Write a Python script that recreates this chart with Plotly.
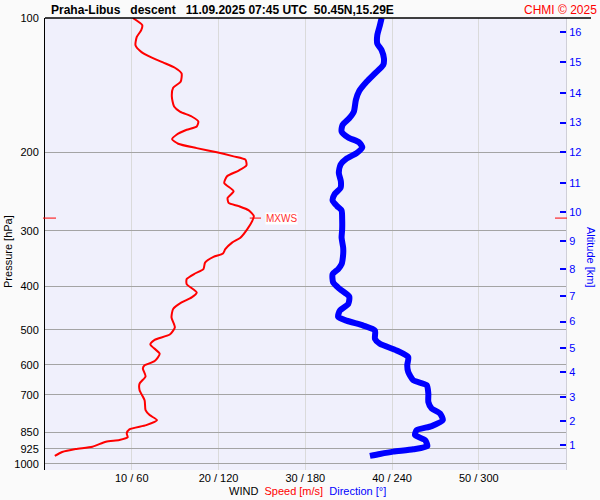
import plotly.graph_objects as go
import math

# ---- data ----
speed_p = [100.0, 103.8, 106.5, 110.3, 115.1, 119.1, 122.6, 125.8, 129.3, 133.1, 139.0, 143.3, 150.1,
           158.0, 162.1, 166.3, 170.7, 175.1, 178.1, 182.7, 187.0, 191.4, 195.8, 200.1, 204.3, 207.8,
           214.0, 219.9, 226.4, 234.4, 244.6, 253.1, 259.7, 264.2, 270.1, 278.2, 285.4, 297.8, 311.0,
           319.0, 330.0, 337.6, 343.4, 353.6, 365.8, 374.1, 385.0, 395.1, 412.6, 423.3, 434.4, 449.4,
           469.2, 493.9, 512.8, 527.0, 539.8, 566.2, 588.1, 601.2, 611.5, 636.2, 660.5, 683.5, 719.6,
           757.6, 777.3, 797.6, 818.3, 836.6, 854.2, 871.8, 884.0, 891.8, 915.0, 925.8, 940.2, 959.7]
speed_ms = [10.12, 11.21, 11.09, 10.58, 10.43, 11.09, 12.26, 13.60, 14.97, 15.74, 15.63, 14.77, 14.62,
            14.88, 15.55, 16.91, 17.67, 17.49, 16.33, 15.16, 14.65, 15.35, 17.49, 19.81, 21.74, 23.10,
            23.22, 22.33, 20.98, 20.66, 21.74, 21.05, 21.16, 22.33, 23.49, 24.07, 23.88, 23.30, 22.52,
            21.56, 20.78, 20.51, 19.42, 18.45, 18.26, 17.29, 16.33, 16.33, 17.49, 16.91, 15.74, 14.77,
            14.58, 14.97, 14.38, 12.64, 12.14, 13.22, 12.64, 11.48, 11.28, 11.59, 10.90, 10.90, 11.48,
            11.59, 12.06, 12.91, 11.67, 9.73, 9.42, 9.53, 8.57, 7.02, 5.47, 3.53, 1.98, 1.13]

dir_p = [100.0, 103.8, 109.3, 114.1, 118.1, 123.3, 127.5, 133.1, 139.0, 145.8, 152.6, 162.1, 167.8,
         173.6, 179.6, 185.3, 190.1, 195.1, 200.9, 206.7, 213.2, 222.6, 232.3, 240.4, 248.0, 256.6,
         264.2, 270.1, 282.9, 297.8, 311.0, 327.3, 338.7, 356.5, 365.8, 375.3, 391.9, 405.4, 421.7,
         437.9, 453.3, 467.5, 477.2, 489.5, 502.3, 524.2, 537.9, 556.7, 576.2, 601.2, 622.3, 649.4,
         666.4, 695.4, 726.1, 751.1, 770.6, 797.6, 822.7, 839.9, 861.7, 884.0, 911.8, 927.3, 938.7,
         949.9, 959.7]
dir_deg = [232.8, 231.6, 229.8, 229.8, 232.8, 234.4, 233.9, 228.2, 222.4, 217.3, 215.0, 213.6, 210.4,
           205.8, 205.1, 209.7, 217.3, 219.4, 215.5, 208.5, 204.4, 203.2, 204.6, 204.4, 200.4, 198.9,
           202.0, 205.1, 205.5, 205.5, 205.1, 206.2, 206.2, 205.1, 202.7, 198.9, 199.3, 203.9, 210.4,
           209.7, 203.9, 202.7, 208.5, 220.1, 228.2, 228.2, 231.6, 243.2, 251.2, 250.5, 251.2, 254.7,
           264.0, 265.1, 265.1, 267.4, 273.2, 275.1, 267.4, 257.0, 255.9, 262.8, 264.4, 254.7, 240.8,
           231.6, 224.7]

pressure_ticks = [100, 200, 300, 400, 500, 600, 700, 850, 925, 1000]
speed_ticks = [10, 20, 30, 40, 50]
speed_tick_text = ["10 / 60", "20 / 120", "30 / 180", "40 / 240", "50 / 300"]
alt_km = [1, 2, 3, 4, 5, 6, 7, 8, 9, 10, 11, 12, 13, 14, 15, 16]
alt_p = [907.0, 801.7, 708.7, 623.3, 550.2, 479.6, 419.6, 365.2, 316.2, 272.4, 234.3, 200.1, 171.6,
         147.1, 125.8, 107.6]
mxws_p = 281.0
mxws_s = 24.1

FONT = "Liberation Sans, Arial, sans-serif"
P_BOTTOM = 1032.0

fig = go.Figure()

fig.add_trace(go.Scatter(x=[d / 6.0 for d in dir_deg], y=dir_p, mode="lines",
                         line=dict(color="#0000ff", width=6, shape="spline", smoothing=0.6),
                         hoverinfo="skip", showlegend=False))
fig.add_trace(go.Scatter(x=speed_ms, y=speed_p, mode="lines",
                         line=dict(color="#ff0000", width=2, shape="spline", smoothing=0.6),
                         hoverinfo="skip", showlegend=False))
# invisible trace to activate right axis
fig.add_trace(go.Scatter(x=[None], y=[None], yaxis="y2", showlegend=False, hoverinfo="skip"))

fig.update_layout(
    width=600, height=500,
    margin=dict(l=45, r=34, t=16, b=30),
    paper_bgcolor="#fafafa",
    plot_bgcolor="#f0f0fc",
    font=dict(family=FONT, size=11, color="black"),
    xaxis=dict(range=[0, 60.05], tickvals=speed_ticks, ticktext=speed_tick_text,
               showgrid=True, gridcolor="#dadada", gridwidth=1, zeroline=False,
               showline=False, ticks="", tickfont=dict(size=11, color="black")),
    yaxis=dict(type="log", range=[math.log10(P_BOTTOM), 2], autorange=False,
               tickvals=pressure_ticks, ticktext=[str(v) for v in pressure_ticks],
               showgrid=True, gridcolor="#a4a4a4", gridwidth=1, zeroline=False,
               showline=True, linecolor="black", linewidth=1, ticks="",
               ticklabelstandoff=3,
               tickfont=dict(size=11, color="black")),
    yaxis2=dict(type="log", range=[math.log10(P_BOTTOM), 2], autorange=False,
                overlaying="y", side="right",
                tickvals=alt_p, ticktext=[str(v) for v in alt_km],
                ticks="inside", ticklen=6, tickcolor="#0000ff", tickwidth=1.5,
                showgrid=False, zeroline=False, showline=True, linecolor="#cfcfd8",
                tickfont=dict(size=11, color="#0000ff")),
)

W = 521.0
H = 454.0
def px_x(px):
    return (px - 45) / W
def px_y(py):
    return (470 - py) / H

shapes = [
    dict(type="line", xref="paper", yref="paper", x0=0, x1=px_x(591), y0=1, y1=1,
         line=dict(color="black", width=1.5)),
    dict(type="line", xref="paper", yref="y", x0=px_x(43), x1=px_x(56), y0=mxws_p, y1=mxws_p,
         line=dict(color="#ff0000", width=1)),
    dict(type="line", xref="paper", yref="y", x0=px_x(555), x1=px_x(567), y0=mxws_p, y1=mxws_p,
         line=dict(color="#ff0000", width=1)),
    dict(type="line", xref="x", yref="y", x0=mxws_s - 0.5, x1=mxws_s + 0.8, y0=mxws_p, y1=mxws_p,
         line=dict(color="#ff0000", width=1)),
]
fig.update_layout(shapes=shapes)

nb = "\u00a0"
annotations = [
    dict(text="<b>Praha-Libus" + nb * 3 + "descent" + nb * 3 + "11.09.2025 07:45 UTC" + nb * 2 + "50.45N,15.29E</b>",
         xref="paper", yref="paper", x=px_x(49), y=px_y(8), xanchor="left", yanchor="middle",
         showarrow=False, font=dict(size=12, color="black")),
    dict(text="CHMI © 2025", xref="paper", yref="paper", x=px_x(599), y=px_y(8),
         xanchor="right", yanchor="middle", showarrow=False, font=dict(size=12, color="#ff0000")),
    dict(text="WIND" + nb * 2 + "<span style='color:#ff0000'>Speed [m/s]</span>" + nb * 2 +
         "<span style='color:#0000ff'>Direction [°]</span>",
         xref="paper", yref="paper", x=px_x(307), y=px_y(491), xanchor="center", yanchor="middle",
         showarrow=False, font=dict(size=11, color="black")),
    dict(text="Pressure [hPa]", xref="paper", yref="paper", x=px_x(8), y=px_y(251),
         xanchor="center", yanchor="middle", textangle=-90, showarrow=False,
         font=dict(size=11, color="black")),
    dict(text="Altitude [km]", xref="paper", yref="paper", x=px_x(591), y=px_y(256),
         xanchor="center", yanchor="middle", textangle=90, showarrow=False,
         font=dict(size=11, color="#0000ff")),
    dict(text="MXWS", xref="x", yref="y", x=mxws_s + 1.2, y=math.log10(mxws_p),
         xanchor="left", yanchor="middle", showarrow=False, bgcolor="white", borderpad=0,
         font=dict(size=10, color="#ff3030")),
]
fig.update_layout(annotations=annotations)

fig.write_html("out.html", config={"displayModeBar": False},
               post_script="document.body.style.margin='0';document.body.style.padding='0';")
